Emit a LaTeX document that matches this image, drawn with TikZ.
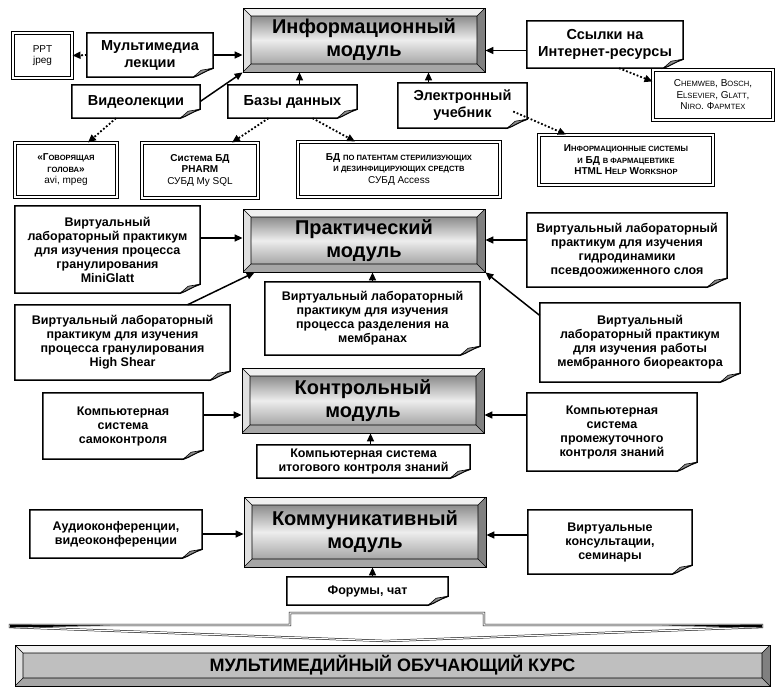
\documentclass[tikz,border=0pt]{standalone}
\usepackage{fontspec}
\setmainfont{Liberation Sans}
\usetikzlibrary{arrows.meta}
\newcommand{\sccaps}[1]{{\fontsize{7.6}{9}\selectfont #1}}

\begin{document}
\begin{tikzpicture}[
        x=1pt, y=-1pt,
        bevel/.style={path picture={
            \path (path picture bounding box.north west) coordinate (pnw)
                  (path picture bounding box.north east) coordinate (pne)
                  (path picture bounding box.south east) coordinate (pse)
                  (path picture bounding box.south west) coordinate (psw);
            \path ([shift={(8pt,-8pt)}]pnw) coordinate (inw)
                  ([shift={(-8pt,-8pt)}]pne) coordinate (ine)
                  ([shift={(-8pt,8pt)}]pse) coordinate (ise)
                  ([shift={(8pt,8pt)}]psw) coordinate (isw);
            \fill[black!6] (pnw) -- (pne) -- (ine) -- (inw) -- cycle;
            \fill[black!12] (pnw) -- (psw) -- (isw) -- (inw) -- cycle;
            \fill[black!50] (pne) -- (pse) -- (ise) -- (ine) -- cycle;
            \fill[black!35] (psw) -- (pse) -- (ise) -- (isw) -- cycle;
            \path[#1] (inw) rectangle (ise);
            \draw[line width=0.6pt] (inw) rectangle (ise)
                (pnw) -- (inw) (pne) -- (ine) (pse) -- (ise) (psw) -- (isw);
        }},
        module/.style={draw, line width=0.8pt, minimum width=242pt, minimum height=64pt,
            inner sep=0pt, align=center, font=\fontsize{20}{23}\selectfont\bfseries,
            bevel={shade, top color=black!45, bottom color=black!35, middle color=black!7}},
        coursebar/.style={draw, line width=0.8pt, minimum width=755pt, minimum height=41pt,
            inner sep=0pt, font=\fontsize{18}{20}\selectfont\bfseries, bevel={fill=black!25}},
        note/.style={align=center, inner sep=0pt, font=\fontsize{12.5}{14}\selectfont\bfseries},
        notebig/.style={note, font=\fontsize{14.5}{17}\selectfont\bfseries},
        notefrm/.style={line width=1.5pt, line join=miter},
        foldfrm/.style={line width=0.6pt, fill=black!45},
        extbox/.style={draw, double, line width=1pt, double distance=1.5pt, align=center,
            inner sep=0pt, font=\fontsize{10}{11.5}\selectfont},
        arrow/.style={-{Triangle[length=8pt,width=7pt]}, line width=1.5pt},
        dotarrow/.style={-{Triangle[length=8pt,width=7pt]}, line width=1.8pt, dotted}
    ]
        \useasboundingbox (0,0) rectangle (778,688);

        % Modules
        \node[module] (info) at (364,40) {Информационный\\модуль};
        \node[module, minimum height=63pt] (prac) at (364,240.5) {Практический\\модуль};
        \node[module, minimum height=65pt] (ctrl) at (363,400.5) {Контрольный\\модуль};
        \node[module, minimum height=70pt] (comm) at (365,532) {Коммуникативный\\модуль};

        % Information module
        \node[notebig, minimum width=126pt, minimum height=44pt] (mmlec) at (150,55) {Мультимедиа\\лекции};
        \node[notebig, minimum width=128pt, minimum height=33pt] (video) at (136,101.5) {Видеолекции};
        \node[notebig, minimum width=129pt, minimum height=33pt] (dbs) at (292.5,101.5) {Базы данных};
        \node[notebig, minimum width=129pt, minimum height=45pt] (ebook) at (462.5,105.5) {Электронный\\учебник};
        \node[notebig, minimum width=156pt, minimum height=47pt] (links) at (605,44.5) {Ссылки на\\Интернет-ресурсы};

        \node[extbox, minimum width=59pt, minimum height=45pt] (ppt) at (42.5,55.5) {PPT\\jpeg};
        \node[extbox, minimum width=102pt, minimum height=54pt] (head) at (66,170)
            {\textbf{«Г\sccaps{ОВОРЯЩАЯ}}\\\textbf{\sccaps{ГОЛОВА}»}\\avi, mpeg};
        \node[extbox, minimum width=116pt, minimum height=55pt] (pharm) at (200,170.5)
            {\textbf{Система БД}\\\textbf{PHARM}\\СУБД My SQL};
        \node[extbox, minimum width=202pt, minimum height=55pt] (patents) at (399,169.5)
            {\textbf{БД \sccaps{ПО ПАТЕНТАМ СТЕРИЛИЗУЮЩИХ}}\\\textbf{\sccaps{И ДЕЗИНФИЦИРУЮЩИХ СРЕДСТВ}}\\СУБД Access};
        \node[extbox, minimum width=120pt, minimum height=50pt] (chem) at (713,95)
            {C\sccaps{HEMWEB}, B\sccaps{OSCH},\\E\sccaps{LSEVIER}, G\sccaps{LATT},\\N\sccaps{IRO}. Ф\sccaps{АРМТЕХ}};
        \node[extbox, minimum width=174pt, minimum height=50pt] (infsys) at (626,160)
            {\textbf{И\sccaps{НФОРМАЦИОННЫЕ СИСТЕМЫ}}\\\textbf{\sccaps{И} БД \sccaps{В ФАРМАЦЕВТИКЕ}}\\\textbf{HTML H\sccaps{ELP} W\sccaps{ORKSHOP}}};

        % Practical module
        \node[note, minimum width=185pt, minimum height=87pt] (minig) at (107.5,249.5)
            {Виртуальный\\лабораторный практикум\\для  изучения процесса\\гранулирования\\MiniGlatt};
        \node[note, minimum width=215pt, minimum height=75pt] (highsh) at (122.5,342.5)
            {Виртуальный лабораторный\\практикум для  изучения\\процесса гранулирования\\High Shear};
        \node[note, minimum width=215pt, minimum height=73pt] (membr) at (372.5,318.5)
            {Виртуальный лабораторный\\практикум для  изучения\\процесса разделения на\\мембранах};
        \node[note, minimum width=200pt, minimum height=74pt] (hydro) at (627,250)
            {Виртуальный лабораторный\\практикум для изучения\\гидродинамики\\псевдоожиженного слоя};
        \node[note, minimum width=200pt, minimum height=79pt] (bioreact) at (640,342.5)
            {Виртуальный\\лабораторный практикум\\для  изучения работы\\мембранного биореактора};

        % Control module
        \node[note, minimum width=160pt, minimum height=66pt] (selfc) at (123,426)
            {Компьютерная\\система\\самоконтроля};
        \node[note, minimum width=170pt, minimum height=78pt] (interm) at (612,432)
            {Компьютерная\\система\\промежуточного\\контроля знаний};
        \node[note, minimum width=213pt, minimum height=33pt] (final) at (363.5,461.5)
            {Компьютерная  система\\итогового контроля знаний};

        % Communicative module
        \node[note, minimum width=172pt, minimum height=48pt] (audio) at (116,534)
            {Аудиоконференции,\\видеоконференции};
        \node[note, minimum width=164pt, minimum height=64pt] (consult) at (610,542)
            {Виртуальные\\консультации,\\семинары};
        \node[note, minimum width=161pt, minimum height=28pt] (forum) at (367.5,591) {Форумы, чат};

        % Note frames with a curled corner
        \foreach \n in {mmlec,video,dbs,ebook,links,minig,highsh,membr,hydro,bioreact,selfc,interm,final,audio,consult,forum}{
            \draw[notefrm] (\n.north west) -- (\n.north east) -- ([yshift=9pt]\n.south east)
                .. controls ([shift={(-7pt,7pt)}]\n.south east) and ([shift={(-14pt,2pt)}]\n.south east) .. ([xshift=-20pt]\n.south east)
                -- (\n.south west) -- cycle;
            \draw[foldfrm] ([xshift=-20pt]\n.south east) -- ([shift={(-12pt,7pt)}]\n.south east) -- ([yshift=9pt]\n.south east)
                .. controls ([shift={(-7pt,7pt)}]\n.south east) and ([shift={(-14pt,2pt)}]\n.south east) .. cycle;
        }

        % Arrows
        \draw[arrow] (mmlec.east) -- (mmlec.east -| info.west);
        \draw[arrow] (video.east) -- (info.south west);
        \draw[arrow] ([xshift=7pt]dbs.north) -- ([xshift=7pt]dbs.north |- info.south);
        \draw[arrow] ([xshift=-34pt]ebook.north) -- ([xshift=-34pt]ebook.north |- info.south);
        \draw[arrow] ([yshift=-6pt]links.west) -- ([yshift=-6pt]links.west -| info.east);
        \draw[dotarrow] (mmlec.west) -- (ppt.east);
        \draw[dotarrow] ([xshift=-20pt]video.south) -- ([xshift=22pt]head.north);
        \draw[dotarrow] ([xshift=-24pt]dbs.south) -- ([xshift=32pt]pharm.north);
        \draw[dotarrow] ([xshift=20pt]dbs.south) -- ([xshift=-44pt]patents.north);
        \draw[dotarrow] ([shift={(-14pt,-6pt)}]ebook.east) -- ([xshift=-60pt]infsys.north);
        \draw[dotarrow] ([xshift=14pt]links.south) -- ([yshift=-12pt]chem.north west);

        \draw[arrow] ([yshift=11.5pt]minig.east) -- ([yshift=11.5pt]minig.east -| prac.west);
        \draw[arrow] ([xshift=65pt]highsh.north) -- ([xshift=12pt]prac.south west);
        \draw[arrow] (membr.north) -- (membr.north |- prac.south);
        \draw[arrow] ([yshift=10pt]hydro.west) -- ([yshift=10pt]hydro.west -| prac.east);
        \draw[arrow] ([yshift=27pt]bioreact.west) -- (prac.south east);

        \draw[arrow] ([yshift=11pt]selfc.east) -- ([yshift=11pt]selfc.east -| ctrl.west);
        \draw[arrow] ([yshift=17pt]interm.west) -- ([yshift=17pt]interm.west -| ctrl.east);
        \draw[arrow] ([xshift=7pt]final.north) -- ([xshift=7pt]final.north |- ctrl.south);

        \draw[arrow] (audio.east) -- (audio.east -| comm.west);
        \draw[arrow] ([yshift=7pt]consult.west) -- ([yshift=7pt]consult.west -| comm.east);
        \draw[arrow] ([xshift=5pt]forum.north) -- ([xshift=5pt]forum.north |- comm.south);

        % Flat arrow to the course
        \draw[line width=0.5pt, double distance=1.2pt, fill=white]
            (10,625) -- (290,625) -- (290,613) -- (484,613) -- (484,625) -- (762,625)
            -- (762,627) -- (386,641) -- (10,627) -- cycle;
        \fill (10,624.5) -- (110,625.6) -- (10,627.6) -- cycle;
        \fill (762,624.5) -- (662,625.6) -- (762,627.6) -- cycle;

        \node[coursebar] (course) at (392.5,665.5) {МУЛЬТИМЕДИЙНЫЙ ОБУЧАЮЩИЙ КУРС};

    \end{tikzpicture}
\end{document}
